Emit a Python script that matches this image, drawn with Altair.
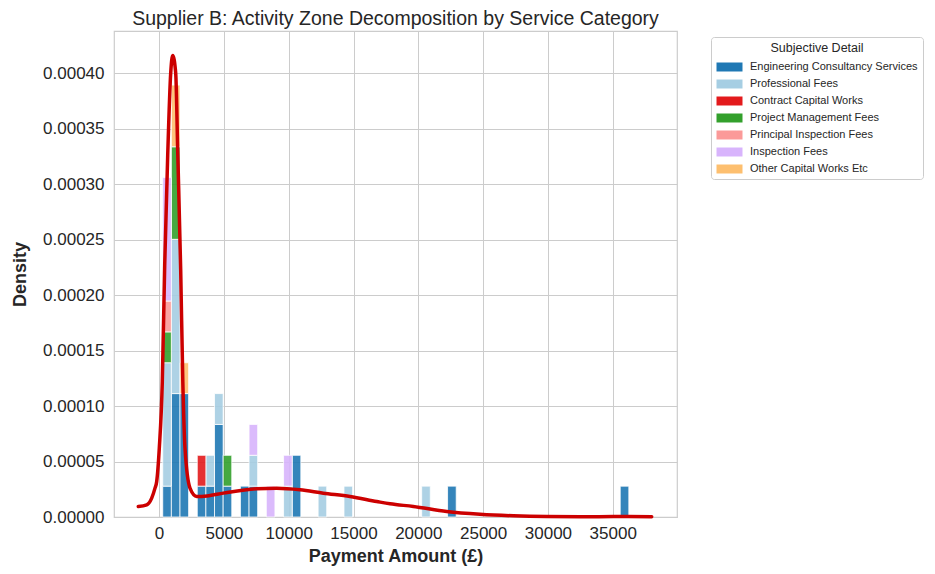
import altair as alt
import pandas as pd

# ---------------- data ----------------
CATEGORIES = [
    "Engineering Consultancy Services",
    "Professional Fees",
    "Contract Capital Works",
    "Project Management Fees",
    "Principal Inspection Fees",
    "Inspection Fees",
    "Other Capital Works Etc",
]
COLORS = ["#1f78b4", "#a6cee3", "#e31a1c", "#33a02c", "#fb9a99", "#d8b4fc", "#fdbf6f"]

BIN_FIRST_EDGE = 280.0     # £, left edge of first histogram bin
BIN_WIDTH = 666.0          # £
# indices of non-empty bins
BIN_INDEX = [0, 1, 2, 4, 5, 6, 7, 9, 10, 12, 14, 15, 18, 21, 30, 33, 53]
# counts per category in each of those bins
ENG   = [1, 4, 4, 1, 1, 3, 1, 1, 1, 0, 0, 2, 0, 0, 0, 1, 1]
PROF  = [4, 5, 0, 0, 1, 1, 0, 0, 1, 0, 1, 0, 1, 1, 1, 0, 0]
CONTR = [0, 0, 0, 1, 0, 0, 0, 0, 0, 0, 0, 0, 0, 0, 0, 0, 0]
PM    = [1, 3, 0, 0, 0, 0, 1, 0, 0, 0, 0, 0, 0, 0, 0, 0, 0]
PRIN  = [1, 0, 0, 0, 0, 0, 0, 0, 0, 0, 0, 0, 0, 0, 0, 0, 0]
INSP  = [4, 0, 0, 0, 0, 0, 0, 0, 1, 1, 1, 0, 0, 0, 0, 0, 0]
OTHER = [0, 2, 1, 0, 0, 0, 0, 0, 0, 0, 0, 0, 0, 0, 0, 0, 0]

# KDE curve
KDE_X = [-1605, -957, -571, -316, -185, 15, 247, 432, 664, 895, 1049, 1281, 1435,
         1667, 1830, 1998, 2384, 2901, 3700, 4954, 7531, 9074, 10872, 12670, 14730,
         16790, 17816, 19614, 22191, 24761, 27330, 29907, 32500, 35046, 36200, 38009]
KDE_Y = [9.5e-6, 1.1e-5, 1.7e-5, 2.6e-5, 3.2e-5, 6.2e-5, 1.22e-4, 2.27e-4, 3.26e-4,
         4.0e-4, 4.16e-4, 4.0e-4, 3.3e-4, 2.22e-4, 1.22e-4, 6.2e-5, 2.6e-5, 1.85e-5,
         1.9e-5, 2.15e-5, 2.55e-5, 2.6e-5, 2.46e-5, 2.15e-5, 1.85e-5, 1.4e-5, 1.19e-5,
         9.5e-6, 5.0e-6, 2.5e-6, 1.1e-6, 4.5e-7, 3e-7, 4e-7, 5e-7, 3e-7]

X_TICKS = [0, 5000, 10000, 15000, 20000, 25000, 30000, 35000]
Y_TICKS = [0, 0.00005, 0.0001, 0.00015, 0.0002, 0.00025, 0.0003, 0.00035, 0.0004]

# ---------------- build tables ----------------
series = [ENG, PROF, CONTR, PM, PRIN, INSP, OTHER]
total = sum(sum(s) for s in series)
rows = []
for ci, (cat, counts) in enumerate(zip(CATEGORIES, series)):
    for bi, c in zip(BIN_INDEX, counts):
        if c > 0:
            start = BIN_FIRST_EDGE + bi * BIN_WIDTH
            rows.append({
                "category": cat,
                "order": ci,
                "x0": start,
                "x1": start + BIN_WIDTH,
                "density": c / (total * BIN_WIDTH),
            })
bars_df = pd.DataFrame(rows)
kde_df = pd.DataFrame({"x": KDE_X, "y": KDE_Y})

FONT = "Liberation Sans"
TXT = "#262626"

x_scale = alt.Scale(domain=[-3480, 39960], nice=False, zero=False)
y_scale = alt.Scale(domain=[0, 0.000438], nice=False)

bars = alt.Chart(bars_df).transform_stack(
    stack="density", groupby=["x0"], as_=["y0", "y1"],
    sort=[alt.SortField("order", order="ascending")],
).mark_rect(opacity=0.9, stroke="white", strokeWidth=0.8).encode(
    x=alt.X("x0:Q", scale=x_scale,
            axis=alt.Axis(values=X_TICKS, format="d", title="Payment Amount (£)")),
    x2="x1:Q",
    y=alt.Y("y0:Q", scale=y_scale,
            axis=alt.Axis(values=Y_TICKS, format=".5f", title="Density")),
    y2="y1:Q",
    color=alt.Color(
        "category:N",
        scale=alt.Scale(domain=CATEGORIES, range=COLORS),
        legend=alt.Legend(
            title="Subjective Detail",
            orient="none", legendX=597, legendY=6,
            padding=5, strokeColor="#cccccc", fillColor="white", cornerRadius=3,
            titleFont=FONT, titleFontSize=12.5, titleFontWeight="normal",
            titleColor=TXT, titleAnchor="middle", titlePadding=7,
            labelFont=FONT, labelFontSize=11, labelColor=TXT, labelLimit=300,
            symbolType="M-2.6,-0.9H2.6V0.9H-2.6Z", symbolSize=100,
            symbolOffset=8, labelOffset=15, rowPadding=5,
            symbolOpacity=1, symbolStrokeWidth=0,
        ),
    ),
)

line = alt.Chart(kde_df).mark_line(
    color="#cc0000", strokeWidth=3.5, interpolate="monotone", strokeCap="round"
).encode(
    x=alt.X("x:Q", scale=x_scale),
    y=alt.Y("y:Q", scale=y_scale),
)

chart = alt.layer(bars, line).properties(
    width=563, height=486,
    padding={"left": 106, "top": 23, "right": 250, "bottom": 49},
    autosize=alt.AutoSizeParams(type="none"),
    title=alt.Title(
        "Supplier B: Activity Zone Decomposition by Service Category",
        font=FONT, fontSize=19.5, fontWeight="normal", color=TXT,
        anchor="middle", offset=2,
    ),
).configure_view(
    stroke="#cccccc", strokeWidth=1.2
).configure_axis(
    grid=True, gridColor="#cccccc", gridWidth=1, ticks=False, domain=False,
    labelFont=FONT, labelFontSize=17, labelColor=TXT,
    titleFont=FONT, titleFontSize=18, titleFontWeight="bold", titleColor=TXT,
).configure_axisX(
    labelPadding=8, titlePadding=6,
).configure_axisY(
    labelPadding=10, titlePadding=13,
)

chart.save("out.html", embed_options={"renderer": "svg", "actions": False})
